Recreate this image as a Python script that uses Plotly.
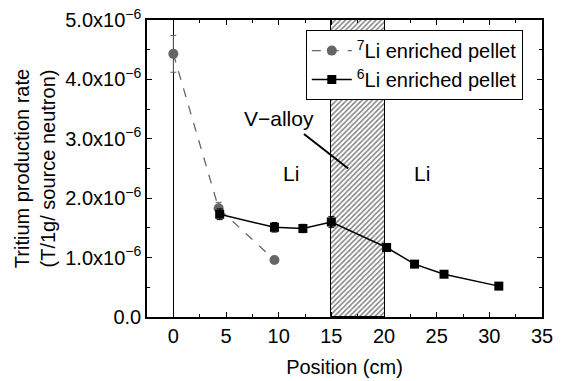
import plotly.graph_objects as go

# Data
li7_x = [0, 4.3, 9.6]
li7_y = [4.43e-6, 1.83e-6, 0.96e-6]
li7_err = [0.31e-6, 0.10e-6, 0.0]

li6_x = [4.4, 9.6, 12.3, 15.0, 20.25, 22.9, 25.7, 30.9]
li6_y = [1.73e-6, 1.51e-6, 1.49e-6, 1.60e-6, 1.17e-6, 0.89e-6, 0.72e-6, 0.52e-6]
li6_err = [0.09e-6, 0.08e-6, 0.07e-6, 0.09e-6, 0.05e-6, 0.03e-6, 0.03e-6, 0.02e-6]

valloy_start = 15.0
valloy_end = 20.1
y_max = 5e-6

x_tickvals = [0, 5, 10, 15, 20, 25, 30, 35]
y_tickvals = [0, 1e-6, 2e-6, 3e-6, 4e-6, 5e-6]
y_ticktext = ["0.0", "1.0x10<sup>−6</sup>", "2.0x10<sup>−6</sup>", "3.0x10<sup>−6</sup>",
              "4.0x10<sup>−6</sup>", "5.0x10<sup>−6</sup>"]

FONT = "Liberation Sans, Arial, sans-serif"

fig = go.Figure()

fig.add_trace(go.Bar(
    x=[(valloy_start + valloy_end) / 2], y=[y_max], base=0,
    width=[valloy_end - valloy_start],
    marker=dict(color="white", line=dict(color="black", width=1),
                pattern=dict(shape="/", fgcolor="black", bgcolor="white", size=3.6, solidity=0.4)),
    showlegend=False, hoverinfo="skip"))

fig.add_trace(go.Scatter(
    x=li7_x, y=li7_y, mode="lines+markers", name="<sup>7</sup>Li enriched pellet",
    line=dict(color="#666666", dash="dash", width=1.3),
    marker=dict(symbol="circle", size=10, color="#666666"),
    error_y=dict(type="data", array=li7_err, color="#666666", thickness=1, width=3)))

fig.add_trace(go.Scatter(
    x=li6_x, y=li6_y, mode="lines+markers", name="<sup>6</sup>Li enriched pellet",
    line=dict(color="black", width=1.5),
    marker=dict(symbol="square", size=9, color="black"),
    error_y=dict(type="data", array=li6_err, color="black", thickness=1, width=3)))

fig.add_shape(type="line", x0=12.4, y0=3.08e-6, x1=16.6, y1=2.5e-6,
              line=dict(color="black", width=2))

fig.add_annotation(x=10.0, y=3.35e-6, text="V−alloy", showarrow=False,
                   font=dict(size=21, color="black", family=FONT))
fig.add_annotation(x=11.2, y=2.42e-6, text="Li", showarrow=False,
                   font=dict(size=21, color="black", family=FONT))
fig.add_annotation(x=23.6, y=2.42e-6, text="Li", showarrow=False,
                   font=dict(size=21, color="black", family=FONT))

fig.update_layout(
    width=563, height=381,
    margin=dict(l=147, r=21, t=20, b=64),
    paper_bgcolor="white", plot_bgcolor="white",
    font=dict(family=FONT, color="black", size=20),
    bargap=0,
    legend=dict(x=0.402, y=0.966, xanchor="left", yanchor="top",
                bordercolor="black", borderwidth=1, bgcolor="white",
                font=dict(size=20, family=FONT), tracegroupgap=0, itemwidth=40),
    xaxis=dict(range=[-2.5, 35], tickmode="array", tickvals=x_tickvals,
               ticks="inside", ticklen=5, tickcolor="black", showgrid=False,
               showline=True, linecolor="black", linewidth=1.5, mirror="ticks",
               zeroline=True, zerolinecolor="black", zerolinewidth=1, automargin=False,
               minor=dict(dtick=2.5, tick0=0, ticks="inside", ticklen=3, tickcolor="black"),
               title=dict(text="Position (cm)", font=dict(size=20), standoff=14),
               tickfont=dict(size=20)),
    yaxis=dict(range=[0, y_max], tickmode="array", tickvals=y_tickvals, ticktext=y_ticktext,
               ticks="inside", ticklen=5, tickcolor="black", showgrid=False,
               showline=True, linecolor="black", linewidth=1.5, mirror="ticks",
               zeroline=False, automargin=False,
               minor=dict(tickvals=[0.5e-6, 1.5e-6, 2.5e-6, 3.5e-6, 4.5e-6], ticks="inside",
                          ticklen=3, tickcolor="black"),
               title=dict(text="Tritium production rate<br>(T/1g/ source neutron)",
                          font=dict(size=20), standoff=4),
               tickfont=dict(size=20)),
)

fig.write_html("out.html", config={"displayModeBar": False},
               post_script="document.body.style.margin='0';")
